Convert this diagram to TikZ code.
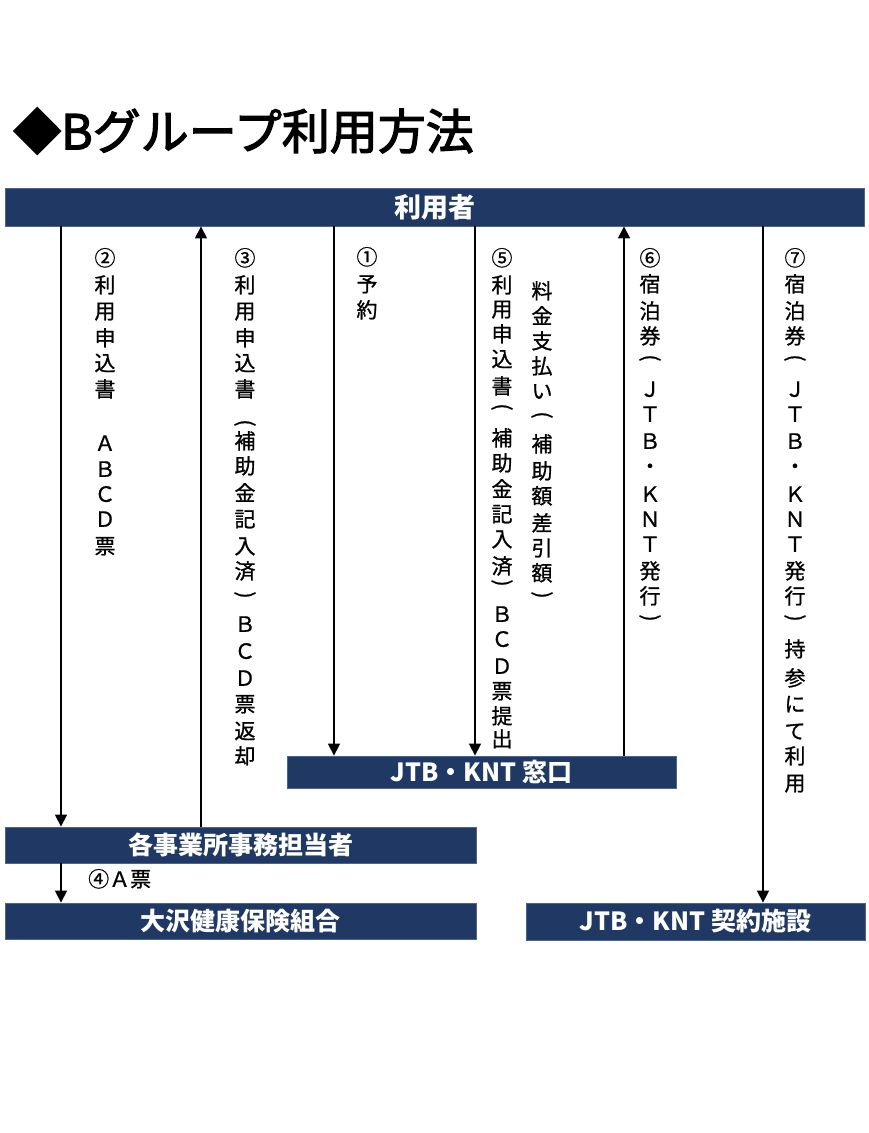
\documentclass[tikz,border=0pt]{standalone}
\usepackage{fontspec}
\setmainfont{Noto Sans CJK JP}
\newfontfamily\vtfont{Noto Sans CJK JP}[FakeBold=0.9]
\newfontfamily\ttlfont{Noto Sans CJK JP}[FakeBold=2.6]
\usetikzlibrary{arrows.meta}
\definecolor{navy}{RGB}{31,56,100}
\definecolor{navyedge}{RGB}{75,100,145}
\begin{document}
\begin{tikzpicture}[x=1pt,y=-1pt,
  box/.style={fill=navy,draw=navyedge,line width=0.8pt,inner sep=0pt,text=white,
    font=\fontsize{25pt}{25pt}\selectfont\bfseries},
  vt/.style={inner sep=0pt,text height=0.88em,text depth=0.12em,
    font=\fontsize{21pt}{21pt}\selectfont\vtfont},
  vp/.style={inner sep=0pt,font=\fontsize{21pt}{21pt}\selectfont\vtfont},
  conn/.style={line width=1.3pt,-{Triangle[width=12pt,length=12pt]}}]
\fill[white] (0,0) rectangle (869,1133);
\useasboundingbox (0,0) rectangle (869,1133);

% title
\node[anchor=west,inner sep=0pt,font=\fontsize{48pt}{48pt}\selectfont\ttlfont] (title) at (13,131) {◆Bグループ利用方法};

% boxes
\node[box,minimum width=859pt,minimum height=38pt,font=\fontsize{27pt}{27pt}\selectfont\bfseries] (user) at (434.5,207) {利用者};
\node[box,minimum width=389pt,minimum height=32pt] (window) at (481.5,772) {JTB・KNT 窓口};
\node[box,minimum width=471pt,minimum height=36pt] (office) at (240.5,845) {各事業所事務担当者};
\node[box,minimum width=471pt,minimum height=36pt] (union) at (240.5,921) {大沢健康保険組合};
\node[box,minimum width=339pt,minimum height=37pt] (facility) at (695.5,921.5) {JTB・KNT 契約施設};

% connector x positions
\coordinate (c2) at (61,0);
\coordinate (c3) at (201,0);
\coordinate (c1) at (334,0);
\coordinate (c5) at (475,0);
\coordinate (c6) at (624,0);
\coordinate (c7) at (763,0);

\draw[conn] (user.south -| c2) -- (office.north -| c2);
\draw[conn] (office.north -| c3) -- (user.south -| c3);
\draw[conn] (user.south -| c1) -- (window.north -| c1);
\draw[conn] (user.south -| c5) -- (window.north -| c5);
\draw[conn] (window.north -| c6) -- (user.south -| c6);
\draw[conn] (user.south -| c7) -- (facility.north -| c7);
\draw[conn] (office.south -| c2) -- (union.north -| c2);

% vertical labels
\foreach \y/\c [count=\i] in {262/②,289/利,315/用,342/申,367/込,393/書,447/Ａ,473/Ｂ,498/Ｃ,523/Ｄ,550/票}
  \node[vt] (vtwo-\i) at (105,\y) {\c};
\foreach \y/\c [count=\i] in {262/③,289/利,315/用,342/申,367/込,393/書,445/補,470/助,497/金,523/記,550/入,575/済,628/Ｂ,655/Ｃ,682/Ｄ,708/票,735/返,760/却}
  \node[vt] (vthree-\i) at (245,\y) {\c};
\foreach \y/\c [count=\i] in {261/①,288/予,314/約}
  \node[vt] (vone-\i) at (367,\y) {\c};
\foreach \y/\c [count=\i] in {262/⑤,289/利,313/用,338/申,363/込,390/書,442/補,467/助,493/金,518/記,543/入,570/済,618/Ｂ,643/Ｃ,670/Ｄ,695/票,720/提,743/出}
  \node[vt] (vfive-\i) at (502,\y) {\c};
\foreach \y/\c [count=\i] in {295/料,320/金,345/支,370/払,395/い,448/補,475/助,500/額,527/差,552/引,577/額}
  \node[vt] (vpay-\i) at (542,\y) {\c};
\foreach \y/\c [count=\i] in {262/⑥,288/宿,315/泊,340/券,393/Ｊ,418/Ｔ,445/Ｂ,470/・,498/Ｋ,523/Ｎ,548/Ｔ,575/発,600/行}
  \node[vt] (vsix-\i) at (650,\y) {\c};
\foreach \y/\c [count=\i] in {262/⑦,288/宿,315/泊,340/券,393/Ｊ,418/Ｔ,445/Ｂ,470/・,498/Ｋ,523/Ｎ,548/Ｔ,575/発,600/行,653/持,682/参,708/に,735/て,760/利,787/用}
  \node[vt] (vseven-\i) at (795,\y) {\c};

% vertical parentheses
\foreach \x/\y/\a [count=\i] in {245/423/-90,245/595/90,502/407/-90,502/583/90,542/415/-90,542/595/90,650/358/-90,650/618/90,795/358/-90,795/618/90}
  \node[vp] (par-\i) at (\x,\y) {\rotatebox{\a}{(}};

% label 4
\node[anchor=west,inner sep=0pt,text height=0.88em,text depth=0.12em,font=\fontsize{21pt}{21pt}\selectfont\vtfont] (lfour) at (88,883) {④Ａ票};
\end{tikzpicture}
\end{document}
